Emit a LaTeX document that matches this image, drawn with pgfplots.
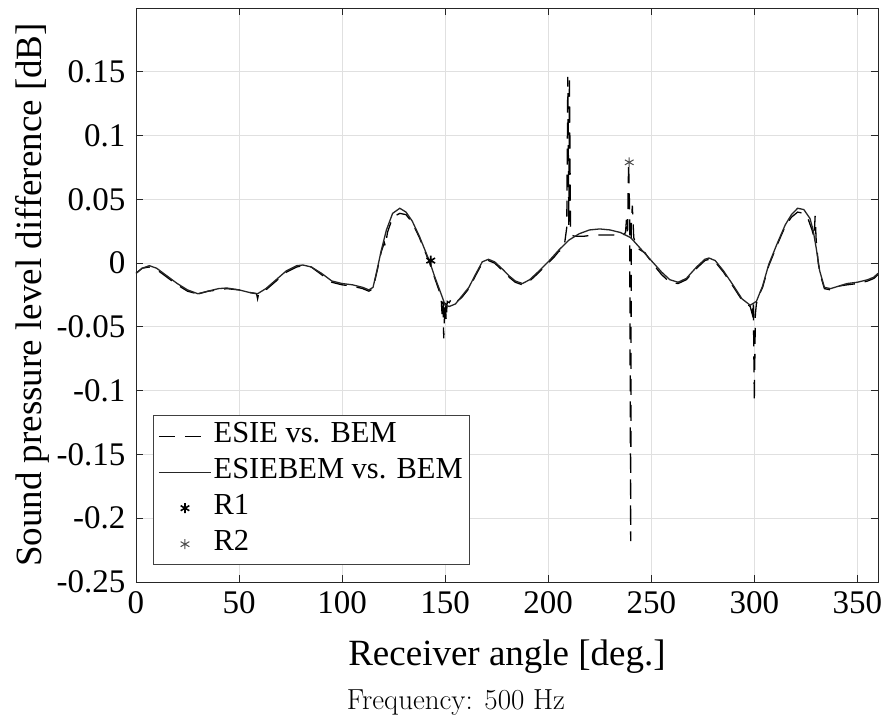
\documentclass[border=0pt]{standalone}
\usepackage{fontspec}
\newfontfamily\tnr{Liberation Serif}
\usepackage{pgfplots}
\pgfplotsset{compat=1.18}
\definecolor{axgray}{HTML}{262626}
\definecolor{gridgray}{HTML}{E0E0E0}
\definecolor{legbox}{HTML}{404040}
\pgfplotsset{
  lineleg/.style={legend image code/.code={\draw[##1] (0pt,0pt) -- (52pt,0pt);}},
  markleg/.style={legend image code/.code={\draw[##1] plot coordinates {(26pt,0pt)};}},
}

% ESIEBEM vs. BEM (solid)
\pgfplotstableread{
x y
0 -0.008
3 -0.004
6.5 -0.002
10 -0.004
15 -0.010
20 -0.016
25 -0.021
30 -0.024
35 -0.022
40 -0.020
44 -0.0195
50 -0.021
55 -0.023
59 -0.024
63 -0.020
68 -0.013
73 -0.006
78 -0.002
81 -0.0015
85 -0.003
90 -0.008
95 -0.014
100 -0.016
105 -0.017
110 -0.019
113 -0.021
115 -0.019
117 -0.005
119 0.010
121.5 0.026
124.5 0.039
128 0.043
131 0.040
134 0.033
137.5 0.021
140 0.011
142.5 0.001
145 -0.011
148 -0.024
150 -0.033
152 -0.034
155 -0.032
158 -0.026
161.5 -0.019
165 -0.008
168 0.001
171 0.003
174 0.001
178 -0.005
181 -0.010
184 -0.014
187.5 -0.016
191 -0.013
195 -0.007
200 0.001
205 0.010
210 0.018
215 0.023
220 0.026
225 0.0268
230 0.026
235 0.024
240 0.020
245 0.011
250 0.002
255 -0.007
259 -0.013
263 -0.015
267 -0.012
272 -0.003
276 0.003
278 0.004
281 0.002
285 -0.006
290 -0.018
294 -0.028
298 -0.033
301 -0.030
304 -0.018
307 -0.001
311 0.015
315 0.030
318 0.038
321 0.043
324 0.042
327 0.035
328.5 0.026
330 0.012
331.7 -0.006
334 -0.019
337 -0.020
341 -0.018
345 -0.016
350 -0.015
355 -0.013
358 -0.011
360 -0.008
}\esiebem

% ESIE vs. BEM (dashed)
\pgfplotstableread{
x y
0 -0.008
3 -0.004
6.5 -0.003
10 -0.005
15 -0.011
20 -0.017
25 -0.022
29.5 -0.024
30 -0.027
30.5 -0.024
35 -0.022
40 -0.021
44 -0.020
50 -0.021
55 -0.023
58.5 -0.024
59 -0.028
59.5 -0.024
63 -0.021
68 -0.014
73 -0.007
78 -0.003
81 -0.002
85 -0.003
90 -0.009
95 -0.015
100 -0.017
105 -0.018
110 -0.020
113 -0.022
115 -0.020
117 -0.006
119 0.009
120.5 0.016
121 0.013
122 0.024
124.5 0.036
128 0.039
131 0.038
134 0.032
137.5 0.020
140 0.010
142.5 0.000
145 -0.012
148 -0.026
148.5 -0.040
149 -0.030
149.3 -0.059
149.6 -0.045
150 -0.029
150.5 -0.045
151 -0.030
152 -0.031
153 -0.028
155 -0.031
158 -0.027
161.5 -0.020
165 -0.009
168 0.000
171 0.002
174 0.000
178 -0.006
181 -0.011
184 -0.015
187.5 -0.017
191 -0.014
195 -0.008
200 0.000
203 0.005
205 0.009
207 0.011
208 0.016
209 0.028
209.5 0.146
210 0.030
210.3 0.147
210.8 0.025
211 0.022
213 0.021
217 0.021
222 0.022
227 0.022
232 0.022
236 0.021
237.5 0.024
238 0.035
238.5 0.025
239 0.079
239.5 0.040
240 -0.218
240.3 0.030
240.8 0.045
241.5 0.020
243 0.012
245 0.010
247 0.008
250 0.001
255 -0.009
259 -0.015
263 -0.016
267 -0.013
272 -0.004
276 0.002
278 0.003
281 0.001
285 -0.007
290 -0.019
294 -0.029
298 -0.034
299 -0.040
299.5 -0.030
300 -0.109
300.5 -0.040
301 -0.032
302 -0.026
304 -0.019
307 -0.002
311 0.014
315 0.029
318 0.036
321 0.040
324 0.039
326 0.035
328 0.026
329 0.020
329.5 0.037
330 0.018
331 0.000
332 -0.009
334 -0.020
337 -0.021
341 -0.018
345 -0.017
350 -0.016
355 -0.014
358 -0.012
360 -0.009
}\esie

\begin{document}
\begin{tikzpicture}
\begin{axis}[
  scale only axis, width=742pt, height=574pt,
  xmin=0, xmax=360, ymin=-0.25, ymax=0.2,
  xtick={0,50,100,150,200,250,300,350},
  xticklabels={0,50,100,150,200,250,300,350},
  ytick={-0.25,-0.2,-0.15,-0.1,-0.05,0,0.05,0.1,0.15},
  yticklabels={-0.25,-0.2,-0.15,-0.1,-0.05,0,0.05,0.1,0.15},
  tick label style={font=\tnr\fontsize{33}{36}\selectfont},
  xticklabel style={yshift=-6pt},
  yticklabel style={xshift=-7pt},
  label style={font=\tnr\fontsize{37}{40}\selectfont},
  xlabel style={at={(axis description cs:0.5,0)}, anchor=base, yshift=-83pt},
  xlabel={Receiver angle [deg.]},
  ylabel={Sound pressure level difference [dB]},
  grid=major, major grid style={gridgray, line width=0.8pt},
  axis line style={axgray, line width=0.9pt},
  tick style={axgray, line width=0.9pt},
  major tick length=7pt, tick align=inside,
  xtick pos=both, ytick pos=both,
  legend cell align=left,
  legend style={at={(axis description cs:0.0229,0.0296)}, anchor=south west,
    draw=legbox, line width=0.7pt, font=\tnr\fontsize{30.5}{32}\selectfont,
    inner xsep=5pt, inner ysep=4pt, row sep=3pt,
    nodes={text height=21pt, text depth=8pt, inner sep=2pt}},
]
\addplot[black, line width=1.3pt, dash pattern=on 16pt off 10pt, lineleg]
  table[x=x,y=y] {\esie};
\addlegendentry{ESIE vs. BEM}
\addplot[black!85, line width=1.3pt, lineleg]
  table[x=x,y=y] {\esiebem};
\addlegendentry{ESIEBEM vs. BEM}
\addplot[only marks, mark=asterisk, mark size=5pt, black, mark options={line width=1.6pt}, markleg]
  coordinates {(143,0.002)};
\addlegendentry{R1}
\addplot[only marks, mark=asterisk, mark size=5pt, black!70, mark options={line width=1pt}, markleg]
  coordinates {(239.3,0.079)};
\addlegendentry{R2}
\end{axis}
\node[font=\fontsize{29}{32}\selectfont, anchor=base] at (320pt,-127pt) {Frequency: 500 Hz};
\pgfresetboundingbox
\useasboundingbox (-136pt,-139pt) rectangle (752pt,582pt);
\end{tikzpicture}
\end{document}
